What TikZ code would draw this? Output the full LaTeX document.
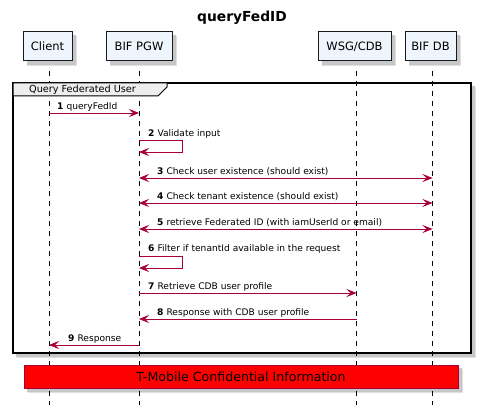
\documentclass[tikz,border=0pt]{standalone}
\usepackage{fontspec}
\setmainfont{DejaVu Sans}
\usetikzlibrary{arrows.meta,calc}
\definecolor{msg}{HTML}{A80036}
\definecolor{pfill}{HTML}{EEF5FC}
\definecolor{tabfill}{HTML}{EEEEEE}
\tikzset{
  part/.style={draw=black!90, line width=1pt, fill=pfill, inner sep=0pt, minimum height=29pt, font=\fontsize{11.5}{13}\selectfont},
  lifeline/.style={draw=black, line width=0.8pt, dash pattern=on 5pt off 5pt},
  msgline/.style={draw=msg, line width=0.8pt},
  tip/.style={-{Stealth[length=10pt,width=8pt,inset=4pt,fill=msg]}},
  btip/.style={{Stealth[length=10pt,width=8pt,inset=4pt,fill=msg]}-{Stealth[length=10pt,width=8pt,inset=4pt,fill=msg]}},
  lbl/.style={anchor=base west, inner sep=0pt, font=\fontsize{9.1}{11}\selectfont},
}
\newcommand{\mnum}[1]{\textbf{#1}\hspace{3pt}}
\begin{document}
\begin{tikzpicture}[x=1pt,y=-1pt]
\useasboundingbox (0,0) rectangle (481,414);
\fill[white] (0,0) rectangle (481,414);
% title
\node[font=\fontsize{13.8}{15}\bfseries\selectfont, inner sep=0pt] (title) at (242,18) {queryFedID};

% frame shadow and fill
\fill[black!12] (17,87) rectangle (476,358);
\fill[black!22] (16,86) rectangle (475,357);
\fill[white] (13,83) rectangle (471,353);

% red box shadow
\fill[black!12] (28,369) rectangle (463,393);
\fill[black!22] (27,368) rectangle (462,392);

% lifelines
\foreach \nm/\x in {cl/49, pg/139, ws/356.5, db/432.5}{
  \coordinate (\nm top) at (\x,61);
  \coordinate (\nm bot) at (\x,405);
  \draw[lifeline] (\nm top) -- (\nm bot);
}

% participants with shadows
\foreach \l/\r in {23/72, 106/172, 318/391, 405/456}{
  \fill[black!12] (\l+4,36) rectangle (\r+5,66);
  \fill[black!22] (\l+4,35) rectangle (\r+4,65);
}
\node[part, minimum width=49pt] (client) at (47.5,46.5) {Client};
\node[part, minimum width=66pt] (pgw) at (139,46.5) {BIF PGW};
\node[part, minimum width=73pt] (wsg) at (354.5,46.5) {WSG/CDB};
\node[part, minimum width=51pt] (bifdb) at (430.5,46.5) {BIF DB};

% frame
\draw[black, line width=2pt] (13,83) rectangle (471,353);
\draw[black, line width=1pt, fill=tabfill] (13,83) -- (167,83) -- (167,87) -- (158,96) -- (13,96) -- cycle;
\node[inner sep=0pt, font=\fontsize{9.7}{11}\selectfont] (tab) at (82.5,89.5) {Query Federated User};

% messages
\coordinate (m1a) at (49,113);  \coordinate (m1b) at (139,113);
\draw[msgline, tip] (m1a) -- (m1b);
\node[lbl] (l1) at (57,109.5) {\mnum{1}queryFedId};

\coordinate (m2a) at (139,140); \coordinate (m2b) at (139,152);
\draw[msgline, tip] (m2a) -- (182,140) -- (182,152) -- (m2b);
\node[lbl] (l2) at (148,136.5) {\mnum{2}Validate input};

\coordinate (m3a) at (139,178); \coordinate (m3b) at (432.5,178);
\draw[msgline, btip] (m3a) -- (m3b);
\node[lbl] (l3) at (157,174.5) {\mnum{3}Check user existence (should exist)};

\coordinate (m4a) at (139,203); \coordinate (m4b) at (432.5,203);
\draw[msgline, btip] (m4a) -- (m4b);
\node[lbl] (l4) at (157,199.5) {\mnum{4}Check tenant existence (should exist)};

\coordinate (m5a) at (139,229); \coordinate (m5b) at (432.5,229);
\draw[msgline, btip] (m5a) -- (m5b);
\node[lbl] (l5) at (157,225.5) {\mnum{5}retrieve Federated ID (with iamUserId or email)};

\coordinate (m6a) at (139,256); \coordinate (m6b) at (139,268);
\draw[msgline, tip] (m6a) -- (182,256) -- (182,268) -- (m6b);
\node[lbl] (l6) at (148,251.5) {\mnum{6}Filter if tenantId available in the request};

\coordinate (m7a) at (139,293); \coordinate (m7b) at (356.5,293);
\draw[msgline, tip] (m7a) -- (m7b);
\node[lbl] (l7) at (148,289.5) {\mnum{7}Retrieve CDB user profile};

\coordinate (m8a) at (356.5,319); \coordinate (m8b) at (139,319);
\draw[msgline, tip] (m8a) -- (m8b);
\node[lbl] (l8) at (157,315.5) {\mnum{8}Response with CDB user profile};

\coordinate (m9a) at (139,345); \coordinate (m9b) at (49,345);
\draw[msgline, tip] (m9a) -- (m9b);
\node[lbl] (l9) at (68,341.5) {\mnum{9}Response};

% confidential box
\node[draw=msg, fill=red, line width=0.8pt, minimum width=434pt, minimum height=23pt, inner sep=0pt, font=\fontsize{12.6}{14}\selectfont] (conf) at (241,376.5) {T-Mobile Confidential Information};
\end{tikzpicture}
\end{document}
